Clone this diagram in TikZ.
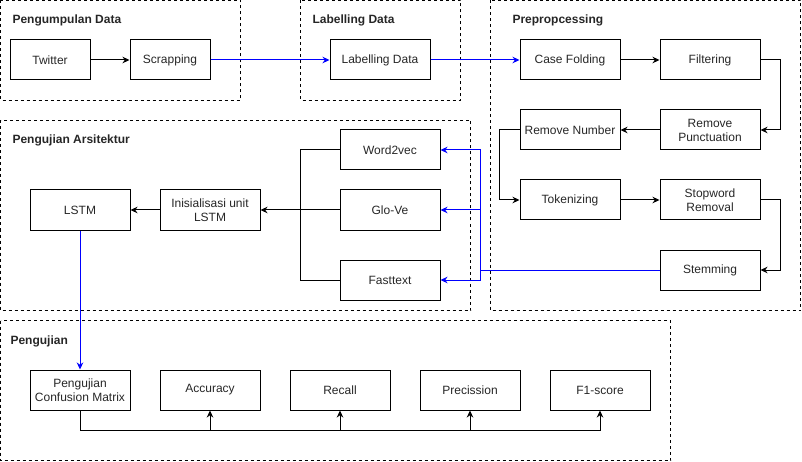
\documentclass[tikz,border=0pt]{standalone}
\usepackage{fontspec}
\setmainfont{Liberation Sans}
\usetikzlibrary{arrows.meta}

\tikzset{
  box/.style={draw, line width=1pt, minimum width=100pt, minimum height=40pt,
              inner sep=2pt, align=center, text=black!85},
  smallbox/.style={box, minimum width=80pt},
  group/.style={draw, line width=0.8pt, dash pattern=on 3pt off 3pt},
  title/.style={anchor=west, font=\fontsize{12}{14}\selectfont\bfseries, text=black!85},
  flow/.style={line width=1pt, -{Stealth[length=7pt,width=6.5pt,inset=2.2pt]}},
}

\begin{document}
\begin{tikzpicture}[x=1pt, y=-1pt, font=\fontsize{12}{14}\selectfont]
      \useasboundingbox (0,0) rectangle (802,462);

      % groups
      \draw[group] (0.5,0.5) rectangle (240.5,100.5);
      \draw[group] (300.5,0.5) rectangle (460.5,100.5);
      \draw[group] (490.5,0.5) rectangle (800.5,310.5);
      \draw[group] (0.5,120.5) rectangle (470.5,310.5);
      \draw[group] (0.5,320.5) rectangle (670.5,460.5);

      \node[title] (tPD) at (9,20) {Pengumpulan Data};
      \node[title] (tLD) at (309,20) {Labelling Data};
      \node[title] (tPP) at (509,20) {Prepropcessing};
      \node[title] (tPA) at (9,140) {Pengujian Arsitektur};
      \node[title] (tPU) at (7,341) {Pengujian};

      % nodes
      \node[smallbox] (twit) at (50,60) {Twitter};
      \node[smallbox] (scrap) at (170,60) {Scrapping};
      \node[box] (label) at (380,60) {Labelling Data};

      \node[box] (fold) at (570,60) {Case Folding};
      \node[box] (filt) at (710,60) {Filtering};
      \node[box] (rnum) at (570,130) {Remove Number};
      \node[box] (rpunc) at (710,130) {Remove\\Punctuation};
      \node[box] (token) at (570,200) {Tokenizing};
      \node[box] (stop) at (710,200) {Stopword\\Removal};
      \node[box] (stem) at (710,270) {Stemming};

      \node[box] (w2v) at (390,150) {Word2vec};
      \node[box] (glove) at (390,210) {Glo-Ve};
      \node[box] (fast) at (390,280) {Fasttext};
      \node[box] (init) at (210,210) {Inisialisasi unit\\LSTM};
      \node[box] (lstm) at (80,210) {LSTM};

      \node[box] (cm) at (80,390) {Pengujian\\Confusion Matrix};
      \node[box] (acc) at (210,390) {Accuracy};
      \node[box] (rec) at (340,390) {Recall};
      \node[box] (prec) at (470,390) {Precission};
      \node[box] (f1) at (600,390) {F1-score};

      \coordinate (jstem) at (480,270);
      \coordinate (jemb) at (300,210);

      % black connectors
      \draw[flow] (twit) -- (scrap);
      \draw[flow] (fold) -- (filt);
      \draw[flow] (filt.east) -- ++(20,0) |- (rpunc.east);
      \draw[flow] (rpunc) -- (rnum);
      \draw[flow] (rnum.west) -- ++(-20,0) |- (token.west);
      \draw[flow] (token) -- (stop);
      \draw[flow] (stop.east) -- ++(20,0) |- (stem.east);
      \draw[line width=1pt] (w2v.west) -| (jemb)
                            (fast.west) -| (jemb);
      \draw[flow] (glove) -- (init);
      \draw[flow] (init) -- (lstm);
      \draw[flow] (cm.south) -- ++(0,20) -| (acc.south);
      \draw[flow] (cm.south) -- ++(0,20) -| (rec.south);
      \draw[flow] (cm.south) -- ++(0,20) -| (prec.south);
      \draw[flow] (cm.south) -- ++(0,20) -| (f1.south);

      % blue connectors
      \draw[flow, blue] (scrap) -- (label);
      \draw[flow, blue] (label) -- (fold);
      \draw[line width=1pt, blue] (stem.west) -- (jstem);
      \draw[flow, blue] (jstem) |- (w2v.east);
      \draw[flow, blue] (jstem) |- (glove.east);
      \draw[flow, blue] (jstem) |- (fast.east);
      \draw[flow, blue] (lstm) -- (cm);
\end{tikzpicture}
\end{document}
